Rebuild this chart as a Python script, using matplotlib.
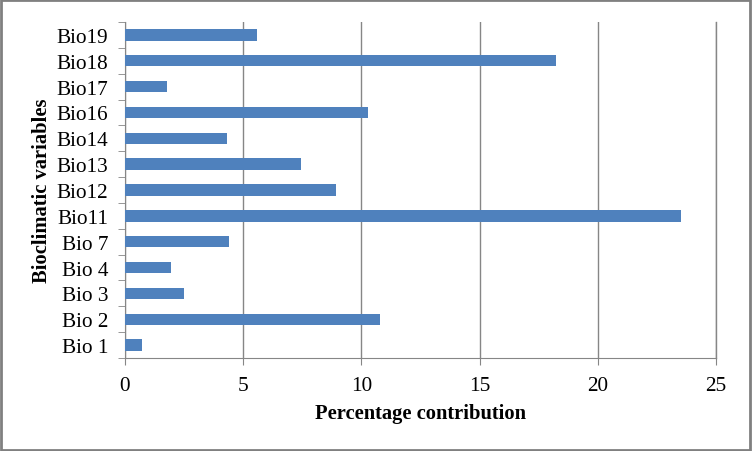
import matplotlib.pyplot as plt
from matplotlib.patches import Rectangle

# bottom to top, as drawn
variables = ['Bio 1', 'Bio 2', 'Bio 3', 'Bio 4', 'Bio 7', 'Bio11', 'Bio12',
             'Bio13', 'Bio14', 'Bio16', 'Bio17', 'Bio18', 'Bio19']
contribution = [0.72, 10.8, 2.49, 1.94, 4.42, 23.52, 8.91,
                7.43, 4.31, 10.3, 1.77, 18.23, 5.58]
xticks = [0, 5, 10, 15, 20, 25]

W, H = 752, 452
plt.rcParams['font.family'] = ['Liberation Serif', 'DejaVu Serif']

fig = plt.figure(figsize=(W / 100, H / 100), dpi=100)
ax = fig.add_axes([125 / W, (H - 359) / H, (716 - 125) / W, (359 - 23) / H])

pos = list(range(len(variables)))
ax.barh(pos, contribution, height=0.44, color='#4F81BD', zorder=3)

ax.set_xlim(0, 25)
ax.set_ylim(-0.5, len(variables) - 0.5)
ax.set_xticks(xticks)
ax.set_xticklabels([str(t) for t in xticks], fontsize=15.3)
ax.set_yticks(pos)
ax.set_yticklabels(variables, fontsize=15.3)
ax.set_yticks([p - 0.5 for p in pos] + [len(variables) - 0.5], minor=True)

ax.tick_params(axis='y', which='major', length=0, pad=12)
ax.tick_params(axis='y', which='minor', length=5, color='#868686', direction='out')
ax.tick_params(axis='x', length=5, color='#868686', direction='out', pad=8)

ax.grid(axis='x', color='#868686', linewidth=1, zorder=0)
ax.axvline(25, color='#868686', linewidth=1, zorder=0, clip_on=False)
for side in ['top', 'right']:
    ax.spines[side].set_visible(False)
for side in ['left', 'bottom']:
    ax.spines[side].set_color('#868686')

ax.set_xlabel('Percentage contribution', fontsize=14.8, fontweight='bold', labelpad=6)
ax.set_ylabel('Bioclimatic variables', fontsize=14.8, fontweight='bold', labelpad=3)

# outer chart border
fig.patches.append(Rectangle((0.001, 0.002), 0.997, 0.995, transform=fig.transFigure,
                             fill=False, edgecolor='#808080', linewidth=2))

fig.savefig('out.png', dpi=100)
